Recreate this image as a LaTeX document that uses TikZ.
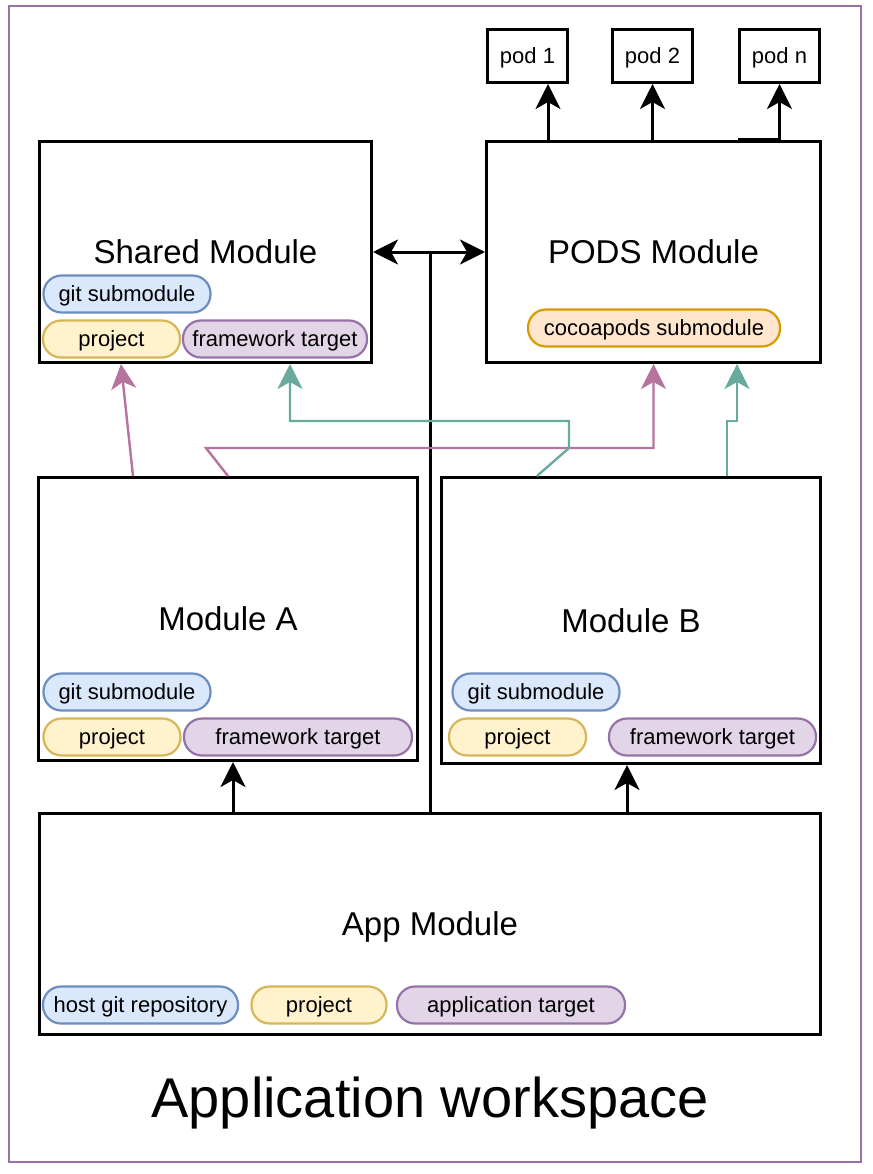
\documentclass[tikz,border=0pt]{standalone}
\usepackage{fontspec}
\setmainfont{Liberation Sans}
\usetikzlibrary{arrows.meta}
\tikzset{
  every node/.style={font=\fontsize{22}{26}\selectfont},
  module/.style={draw, line width=3pt, fill=white, inner sep=0,
    font=\fontsize{33}{40}\selectfont, text height=30pt, text depth=7pt},
  podbox/.style={draw, line width=3pt, fill=white, inner sep=0,
    minimum width=80, minimum height=53, text height=20pt, text depth=4.7pt},
  tag/.style={draw, line width=2.2pt, rounded corners=18pt, minimum height=37,
    inner sep=0, text height=20pt, text depth=4.7pt},
  gittag/.style={tag, fill=gitfill, draw=gitline},
  projtag/.style={tag, fill=projfill, draw=projline},
  targettag/.style={tag, fill=targetfill, draw=targetline},
  cocoatag/.style={tag, fill=cocoafill, draw=cocoaline},
  deplink/.style={->, line width=3pt},
  sharedlink/.style={->, line width=2.4pt, draw=purplelink},
  podlink/.style={->, line width=2.4pt, draw=greenlink},
}

\begin{document}
\begin{tikzpicture}[x=1pt, y=-1pt, >={Stealth[length=25pt, width=25pt, inset=7pt]}]
  % Bounding box of the whole picture.
  \path[use as bounding box] (0,0) rectangle (872,1174);

  % Colours of the tags and links.
  \definecolor{framecol}{HTML}{9673A6}
  \definecolor{gitfill}{HTML}{DAE8FC}
  \definecolor{gitline}{HTML}{6C8EBF}
  \definecolor{projfill}{HTML}{FFF2CC}
  \definecolor{projline}{HTML}{D6B656}
  \definecolor{targetfill}{HTML}{E1D5E7}
  \definecolor{targetline}{HTML}{9673A6}
  \definecolor{cocoafill}{HTML}{FFE6CC}
  \definecolor{cocoaline}{HTML}{D79B00}
  \definecolor{purplelink}{HTML}{B5739D}
  \definecolor{greenlink}{HTML}{67AB9F}

  % Workspace frame.
  \draw[line width=2.4pt, framecol] (9,6) rectangle (861,1162);

  % Pods.
  \node[podbox] (pod1) at (527.5,56) {pod 1};
  \node[podbox] (pod2) at (652.5,56) {pod 2};
  \node[podbox] (podn) at (779.5,56) {pod n};

  % Modules.
  \node[module, minimum width=332, minimum height=221] (shared) at (205.5,252) {Shared Module};
  \node[module, minimum width=334, minimum height=221] (pods) at (653.5,252) {PODS Module};
  \node[module, minimum width=379, minimum height=283] (modA) at (228,619) {Module A};
  \node[module, minimum width=379, minimum height=286] (modB) at (631,620.5) {Module B};
  \node[module, minimum width=781, minimum height=221] (appm) at (430,924) {App Module};

  % Tags of the shared module.
  \node[gittag, minimum width=167] (sgit) at (127,294) {git submodule};
  \node[projtag, minimum width=137] (sproj) at (111.5,339) {project};
  \node[targettag, minimum width=184] (sfw) at (275,339) {framework target};

  % Tag of the pods module.
  \node[cocoatag, minimum width=252] (pcocoa) at (654,328) {cocoapods submodule};

  % Tags of module A.
  \node[gittag, minimum width=167] (agit) at (127,692) {git submodule};
  \node[projtag, minimum width=137] (aproj) at (112,737) {project};
  \node[targettag, minimum width=228] (afw) at (298,737) {framework target};

  % Tags of module B.
  \node[gittag, minimum width=167] (bgit) at (536,692) {git submodule};
  \node[projtag, minimum width=137] (bproj) at (517.5,737) {project};
  \node[targettag, minimum width=207] (bfw) at (712.5,737) {framework target};

  % Tags of the app module.
  \node[gittag, minimum width=195] (hgit) at (140.5,1005) {host git repository};
  \node[projtag, minimum width=135] (hproj) at (319,1005) {project};
  \node[targettag, minimum width=228] (happ) at (511,1005) {application target};

  % Title of the workspace.
  \node[font=\fontsize{56}{66}\selectfont, text height=50pt, text depth=12pt]
    (wslabel) at (430,1098) {Application workspace};

  % Links from the pods module to the pods.
  \draw[deplink] (pods.north -| 548,0) -- (pod1.south -| 548,0);
  \draw[deplink] (pod2.south |- pods.north) -- (pod2.south);
  \draw[deplink] ([xshift=-42]podn.south |- pods.north) -- (podn.south |- pods.north) -- (podn.south);

  % Links from the app module.
  \draw[deplink, <->] (shared.east) -- (pods.west);
  \draw[line width=3pt] (appm.north) -- (appm.north |- shared.east);
  \draw[deplink] (appm.north -| 233,0) -- (modA.south -| 233,0);
  \draw[deplink] (appm.north -| 627,0) -- (modB.south -| 627,0);

  % Module A uses the shared and pods modules.
  \draw[sharedlink] (modA.north -| 133,0) -- (shared.south -| 121,0);
  \draw[sharedlink] (modA.north) -- (206,448) -| (pods.south);

  % Module B uses the shared and pods modules.
  \draw[podlink] (modB.north -| 537,0) -- (569,448) |- (290,421) -- (shared.south -| 290,0);
  \draw[podlink] (modB.north -| 727,0) |- (737,421) -- (pods.south -| 737,0);
\end{tikzpicture}
\end{document}
